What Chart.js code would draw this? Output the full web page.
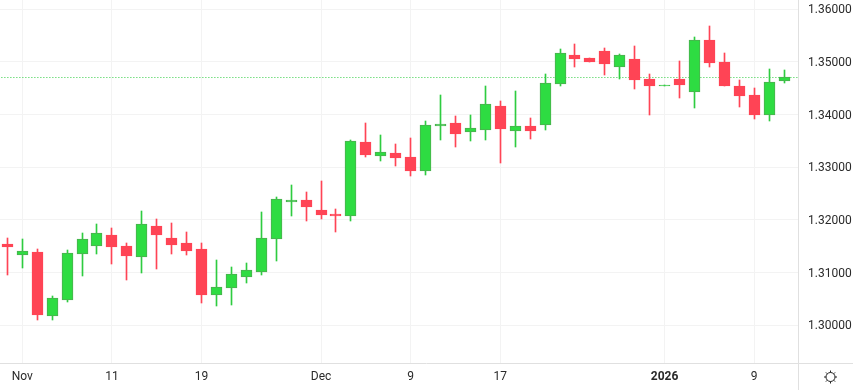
<!DOCTYPE html>
<html>
<head>
<meta charset="utf-8">
<style>
    html, body { margin: 0; padding: 0; background: #ffffff; }
    canvas { display: block; }
</style>
<script src="https://cdn.jsdelivr.net/npm/chart.js@4"></script>
</head>
<body>
<canvas id="myChart" width="853" height="390"></canvas>
<script>
const opens = [1.31545, 1.31342, 1.31393, 1.30177, 1.30487, 1.31361, 1.31513, 1.31715, 1.31507, 1.31304, 1.31886, 1.31658, 1.31564, 1.3145, 1.30576, 1.30709, 1.30918, 1.31013, 1.31633, 1.32348, 1.32386, 1.32196, 1.3212, 1.32082, 1.33488, 1.33222, 1.33279, 1.33203, 1.32937, 1.33791, 1.33848, 1.33677, 1.33715, 1.34171, 1.33696, 1.33791, 1.33804, 1.34582, 1.35133, 1.35076, 1.35209, 1.34905, 1.35057, 1.34677, 1.34544, 1.34677, 1.3443, 1.35418, 1.35, 1.34544, 1.34373, 1.34, 1.34639]
const highs = [1.31658, 1.31639, 1.31443, 1.30557, 1.31431, 1.31753, 1.31924, 1.31848, 1.31564, 1.32171, 1.32019, 1.31943, 1.31772, 1.31564, 1.31241, 1.31108, 1.31184, 1.32152, 1.32443, 1.32671, 1.32538, 1.32747, 1.32215, 1.33526, 1.33848, 1.3362, 1.3345, 1.33564, 1.33886, 1.3438, 1.33981, 1.34, 1.34551, 1.34266, 1.34456, 1.33943, 1.34772, 1.35247, 1.35342, 1.35076, 1.35266, 1.35152, 1.35304, 1.34772, 1.34563, 1.35019, 1.35475, 1.35684, 1.35171, 1.34658, 1.34506, 1.34867, 1.34848]
const lows = [1.30962, 1.31089, 1.30101, 1.30101, 1.30443, 1.30937, 1.31355, 1.31165, 1.30861, 1.30994, 1.3107, 1.31355, 1.31336, 1.30424, 1.30367, 1.30386, 1.30804, 1.30956, 1.31228, 1.32082, 1.31987, 1.32025, 1.31778, 1.31987, 1.33203, 1.33127, 1.33032, 1.32842, 1.32861, 1.33526, 1.33393, 1.33507, 1.33526, 1.33089, 1.33393, 1.33545, 1.33709, 1.34544, 1.34905, 1.35, 1.34753, 1.34677, 1.34487, 1.34, 1.34544, 1.34317, 1.34127, 1.34905, 1.34544, 1.34146, 1.33918, 1.3388, 1.34601]
const closes = [1.31487, 1.31412, 1.30196, 1.30519, 1.31374, 1.31633, 1.31753, 1.31488, 1.31317, 1.31924, 1.31715, 1.31526, 1.31412, 1.30576, 1.30728, 1.30975, 1.31051, 1.31658, 1.32405, 1.32386, 1.32253, 1.32101, 1.32082, 1.33507, 1.33241, 1.33298, 1.33184, 1.32937, 1.3381, 1.33829, 1.3364, 1.33753, 1.34209, 1.33734, 1.33791, 1.33696, 1.34601, 1.35171, 1.35057, 1.35, 1.34962, 1.35133, 1.34658, 1.34544, 1.34563, 1.34563, 1.35418, 1.34981, 1.34544, 1.34354, 1.34, 1.3462, 1.34715]

const lastPrice = 1.34705

const yTicks = [1.30, 1.31, 1.32, 1.33, 1.34, 1.35, 1.36]
const xTickPositions = [1, 7, 13, 21, 27, 33, 44, 50]
const xTickLabels = ['Nov', '11', '19', 'Dec', '9', '17', '2026', '9']

const GREEN = '#2edc42'
const GREEN_EDGE = '#4caf50'
const GREEN_WICK = '#2ecc40'
const RED = '#ff4455'
const GRID = '#f3f3f3'
const EDGE = '#e0e0e0'
const TEXT = '#2a2a2a'

const isUp = i => closes[i] >= opens[i]

// Chart.js has no candlestick type, so two floating bar sets stand in for it
const wickData = highs.map((h, i) => ({ x: i, y: [lows[i], h] }))
const bodyData = opens.map((o, i) => ({ x: i, y: [o, closes[i]] }))

// Snap the bars to whole pixels so they stay crisp
const snapBars = {
    id: 'snapBars',
    afterDatasetsUpdate(chart) {
        chart.data.datasets.forEach((ds, n) => {
            if (ds.type !== 'bar') return
            chart.getDatasetMeta(n).data.forEach(bar => {
                bar.x = Math.floor(bar.x) + 0.5
                const top = Math.round(Math.min(bar.y, bar.base))
                const bottom = Math.round(Math.max(bar.y, bar.base))
                bar.y = top
                bar.base = Math.max(bottom, top + 1)
                bar.height = bar.base - bar.y
            })
        })
    }
}

// Axis separators and the little sun icon bottom right
const frame = {
    id: 'frame',
    afterDraw(chart) {
        const c = chart.ctx
        const a = chart.chartArea
        c.save()
        c.strokeStyle = EDGE
        c.lineWidth = 1
        c.beginPath()
        c.moveTo(0, a.bottom + 0.5)
        c.lineTo(853, a.bottom + 0.5)
        c.moveTo(a.right + 0.5, 0)
        c.lineTo(a.right + 0.5, 390)
        c.stroke()

        const cx = 830.5
        const cy = 377
        c.strokeStyle = '#222222'
        c.beginPath()
        c.arc(cx, cy, 4.5, 0, Math.PI * 2)
        for (let k = 0; k < 8; k++) {
            const t = k * Math.PI / 4
            c.moveTo(cx + Math.cos(t) * 4.5, cy + Math.sin(t) * 4.5)
            c.lineTo(cx + Math.cos(t) * 6.5, cy + Math.sin(t) * 6.5)
        }
        c.stroke()
        c.restore()
    }
}

new Chart(document.getElementById('myChart').getContext('2d'), {
    data: {
        datasets: [
            {
                type: 'bar',
                label: 'Body',
                order: 1,
                data: bodyData,
                grouped: false,
                barThickness: 11,
                borderWidth: 1,
                borderSkipped: false,
                backgroundColor: opens.map((o, i) => isUp(i) ? GREEN : RED),
                borderColor: opens.map((o, i) => isUp(i) ? GREEN_EDGE : RED)
            },
            {
                type: 'bar',
                label: 'Wick',
                order: 2,
                data: wickData,
                grouped: false,
                barThickness: 1,
                borderWidth: 0,
                backgroundColor: opens.map((o, i) => isUp(i) ? GREEN_WICK : RED)
            },
            {
                type: 'line',
                label: 'Last',
                order: 3,
                data: [{ x: -1, y: lastPrice }, { x: 54, y: lastPrice }],
                borderColor: GREEN_WICK,
                borderWidth: 1,
                borderDash: [1, 2],
                pointRadius: 0
            }
        ]
    },
    options: {
        responsive: false,
        animation: false,
        events: [],
        plugins: {
            legend: { display: false },
            tooltip: { enabled: false }
        },
        layout: { padding: 0 },
        scales: {
            x: {
                type: 'linear',
                offset: false,
                min: -0.49,
                max: 52.93,
                afterFit(scale) {
                    scale.height = 27
                    scale.paddingLeft = 0
                    scale.paddingRight = 0
                },
                afterBuildTicks(scale) { scale.ticks = xTickPositions.map(v => ({ value: v })) },
                grid: { color: GRID, drawTicks: false, offset: false },
                border: { display: false },
                ticks: {
                    autoSkip: false,
                    maxRotation: 0,
                    padding: 7,
                    color: TEXT,
                    font: ctx => ({
                        family: 'Roboto',
                        size: 12,
                        weight: ctx.tick && ctx.tick.value === 44 ? 'bold' : 'normal'
                    }),
                    callback: value => xTickLabels[xTickPositions.indexOf(value)]
                }
            },
            y: {
                position: 'right',
                min: 1.29284,
                max: 1.36177,
                afterFit(scale) {
                    scale.width = 55
                    scale.paddingTop = 0
                    scale.paddingBottom = 0
                },
                afterBuildTicks(scale) { scale.ticks = yTicks.map(v => ({ value: v })) },
                grid: { color: GRID, drawTicks: false },
                border: { display: false },
                ticks: {
                    padding: 10,
                    labelOffset: 1,
                    color: TEXT,
                    font: { family: 'Roboto', size: 12 },
                    callback: value => value.toFixed(5)
                }
            }
        }
    },
    plugins: [snapBars, frame]
})
</script>
</body>
</html>
